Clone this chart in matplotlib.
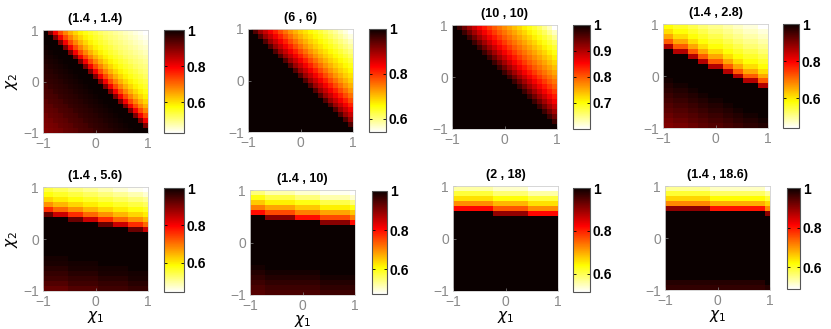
import numpy as np
import matplotlib.pyplot as plt

plt.rcParams['font.family'] = ['Liberation Sans', 'DejaVu Sans']

# panel titles (parameter pairs)
titles = ['(1.4 , 1.4)', '(6 , 6)', '(10 , 10)', '(1.4 , 2.8)',
          '(1.4 , 5.6)', '(1.4 , 10)', '(2 , 18)', '(1.4 , 18.6)']

# 21 x 21 cells on [-1, 1] x [-1, 1]
n_cells = 21

# levels below the dark ridge (index 0 = bottom-left corner), one per step
lower_1 = [0.895, 0.90, 0.905, 0.91, 0.92, 0.925, 0.93, 0.94, 0.945, 0.95, 0.96,
           0.965, 0.97, 0.975, 0.98, 0.985, 0.99, 0.995, 1.0, 1.0, 1.0]
lower_2 = [1.0] * 21
lower_3 = [1.0] * 21
lower_4 = [0.90, 0.91, 0.92, 0.93, 0.94, 0.95, 0.96, 0.97, 0.98, 0.99, 1, 1, 1, 1, 1, 1]
lower_5 = [0.925, 0.94, 0.955, 0.965, 0.975, 0.985, 0.99, 1, 1, 1, 1, 1, 1, 1, 1]
lower_6 = [0.94, 0.95, 0.96, 0.97, 0.98, 0.99, 1, 1, 1, 1, 1, 1, 1, 1, 1, 1]
lower_7 = [1.0] * 16
lower_8 = [0.97, 0.98] + [1.0] * 14

# levels above the ridge, going away from it
upper_1 = [0.90, 0.80, 0.73, 0.68, 0.64, 0.61, 0.585, 0.565, 0.55, 0.535,
           0.52, 0.51, 0.50, 0.49, 0.48, 0.47, 0.46, 0.45, 0.44, 0.43]
upper_2 = [0.95, 0.90, 0.87, 0.84, 0.81, 0.78, 0.755, 0.73, 0.71, 0.69,
           0.675, 0.66, 0.645, 0.63, 0.615, 0.60, 0.585, 0.57, 0.555, 0.54]
upper_3 = [0.97, 0.94, 0.91, 0.885, 0.86, 0.84, 0.82, 0.80, 0.785, 0.77,
           0.755, 0.74, 0.725, 0.71, 0.695, 0.68, 0.665, 0.645, 0.625, 0.60]
upper_4 = [0.86, 0.72, 0.655, 0.61, 0.58, 0.56, 0.54, 0.52, 0.505, 0.49, 0.475, 0.46, 0.44]
upper_5 = [0.92, 0.84, 0.76, 0.71, 0.675, 0.645, 0.62, 0.60, 0.58, 0.565,
           0.55, 0.535, 0.52, 0.505, 0.49, 0.47, 0.455, 0.445]
upper_6 = [0.90, 0.80, 0.75, 0.71, 0.68, 0.65, 0.62, 0.60, 0.57, 0.545,
           0.52, 0.50, 0.485, 0.475]
upper_7 = [0.90, 0.82, 0.76, 0.72, 0.69, 0.66, 0.635, 0.61, 0.585, 0.56, 0.54, 0.515]
upper_8 = [0.90, 0.80, 0.71, 0.68, 0.65, 0.62, 0.595, 0.57, 0.545, 0.52, 0.49]

lowers = [lower_1, lower_2, lower_3, lower_4, lower_5, lower_6, lower_7, lower_8]
uppers = [upper_1, upper_2, upper_3, upper_4, upper_5, upper_6, upper_7, upper_8]

# level lines: t = row + tilt*col + shift; ridge edge at t = edge
tilt = [1, 1, 1, 0.42, 0.167, 0.0909, 0.068, 0.045]
shift = [0, 0, 0, 0.3, 0.17, 0.77, 0.5, 0.1]
edge = [21, 21, 21, 16, 15, 16, 16, 16]
steps = [1, 1, 1, 1, 2, 2, 2, 2]  # upper levels per row step

cb_ticks = [[0.6, 0.8, 1], [0.6, 0.8, 1], [0.7, 0.8, 0.9, 1], [0.6, 0.8, 1],
            [0.6, 0.8, 1], [0.6, 0.8, 1], [0.6, 0.8, 1], [0.6, 0.8, 1]]

W, H = 831, 329
# pixel boxes: left, top, width, height
img_boxes = [(43, 30, 105, 103), (248, 29, 105, 103), (452, 25, 105, 104), (663, 24, 105, 104),
             (43, 187, 105, 104), (250, 190, 105, 105), (453, 186, 105, 105), (665, 186, 105, 104)]
cb_boxes = [(164, 30, 20, 103), (369, 29, 17, 103), (573, 25, 17, 104), (783, 24, 16, 104),
            (164, 188, 20, 104), (372, 191, 15, 103), (573, 188, 17, 104), (787, 188, 13, 101)]


def rect(box):
    l, t, w, h = box
    return [l / W, 1 - (t + h) / H, w / W, h / H]


def build(p):
    lo = np.array(lowers[p])
    up = np.array(uppers[p])
    cols, rows = np.meshgrid(np.arange(n_cells), np.arange(n_cells))
    t = rows + tilt[p] * cols + shift[p] + 1e-9
    k_lo = np.clip(np.floor(t).astype(int), 0, len(lo) - 1)
    k_up = np.clip(np.floor(steps[p] * (t - edge[p])).astype(int), 0, len(up) - 1)
    return np.where(t < edge[p], lo[k_lo], up[k_up])


fig = plt.figure(figsize=(W / 100, H / 100), dpi=100)
grey = '#8a8a8a'

for p in range(8):
    Z = build(p)
    ax = fig.add_axes(rect(img_boxes[p]))
    im = ax.imshow(Z, cmap='hot_r', origin='lower', extent=[-1, 1, -1, 1],
                   aspect='auto', interpolation='nearest',
                   vmin=Z.min(), vmax=Z.max())
    ax.set_xticks([-1, 0, 1])
    ax.set_yticks([-1, 0, 1])
    ax.set_xticklabels(['\u22121', '0', '1'])
    ax.set_yticklabels(['\u22121', '0', '1'])
    ax.tick_params(direction='in', length=2, width=0.5, colors=grey,
                   labelsize=10, pad=3)
    for s in ax.spines.values():
        s.set_color('#d0d0d0')
        s.set_linewidth(0.6)
    ax.set_title(titles[p], fontsize=9, fontweight='bold', pad=6)
    if p % 4 == 0:
        ax.set_ylabel(r'$\chi_2$', fontsize=11, labelpad=2)
    if p >= 4:
        ax.set_xlabel(r'$\chi_1$', fontsize=11, labelpad=0)

    cax = fig.add_axes(rect(cb_boxes[p]))
    cb = fig.colorbar(im, cax=cax)
    cb.set_ticks(cb_ticks[p])
    cb.set_ticklabels(['%g' % v for v in cb_ticks[p]])
    cb.outline.set_edgecolor('#555555')
    cb.outline.set_linewidth(0.8)
    cax.tick_params(direction='in', length=2, width=0.6, labelsize=10, pad=2,
                    left=True, right=True)
    for lab in cax.get_yticklabels():
        lab.set_fontweight('bold')

fig.savefig('out.png', dpi=100)
